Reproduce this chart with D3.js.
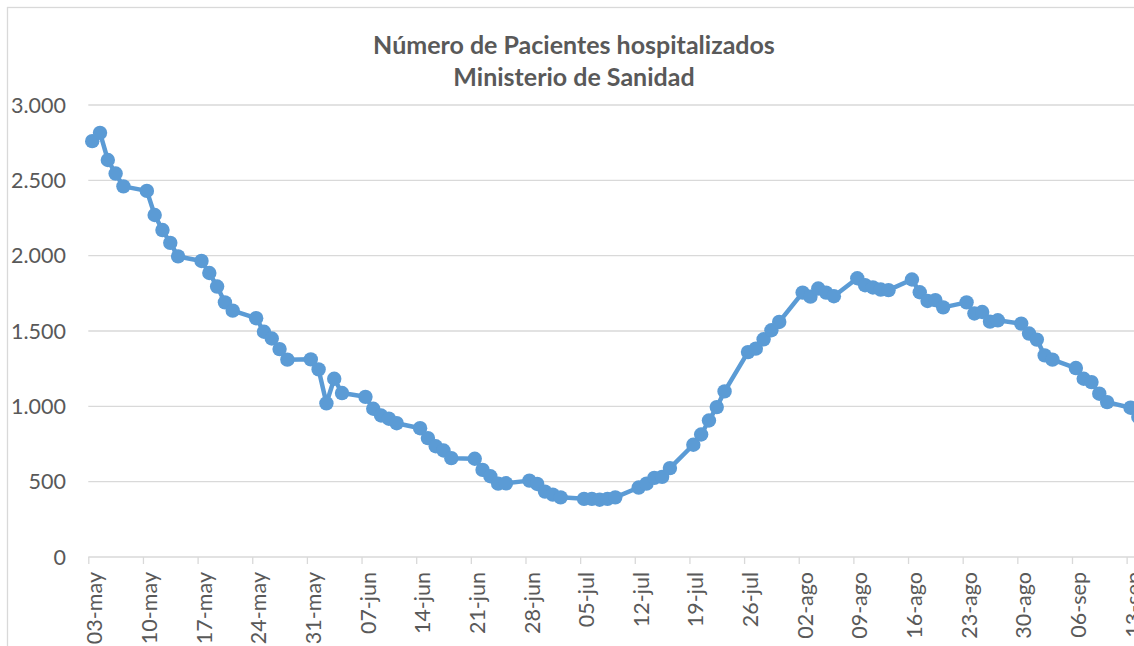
<!DOCTYPE html>
<html>
<head>
<meta charset="utf-8">
<script src="https://cdn.jsdelivr.net/npm/d3@7"></script>
<style>
  body { margin: 0; background: #fff; }
  svg { display: block; }
  text { font-family: Lato, "Open Sans", sans-serif; fill: #595959; }
</style>
</head>
<body>
<svg id="chart" width="1134" height="646"></svg>
<script>
const titleLines = ["Número de Pacientes hospitalizados", "Ministerio de Sanidad"];

// fechas con dato (sin fines de semana)
const fechas = [
  "2020-05-03", "2020-05-04", "2020-05-05", "2020-05-06", "2020-05-07",
  "2020-05-10", "2020-05-11", "2020-05-12", "2020-05-13", "2020-05-14",
  "2020-05-17", "2020-05-18", "2020-05-19", "2020-05-20", "2020-05-21",
  "2020-05-24", "2020-05-25", "2020-05-26", "2020-05-27", "2020-05-28",
  "2020-05-31", "2020-06-01", "2020-06-02", "2020-06-03", "2020-06-04",
  "2020-06-07", "2020-06-08", "2020-06-09", "2020-06-10", "2020-06-11",
  "2020-06-14", "2020-06-15", "2020-06-16", "2020-06-17", "2020-06-18",
  "2020-06-21", "2020-06-22", "2020-06-23", "2020-06-24", "2020-06-25",
  "2020-06-28", "2020-06-29", "2020-06-30", "2020-07-01", "2020-07-02",
  "2020-07-05", "2020-07-06", "2020-07-07", "2020-07-08", "2020-07-09",
  "2020-07-12", "2020-07-13", "2020-07-14", "2020-07-15", "2020-07-16",
  "2020-07-19", "2020-07-20", "2020-07-21", "2020-07-22", "2020-07-23",
  "2020-07-26", "2020-07-27", "2020-07-28", "2020-07-29", "2020-07-30",
  "2020-08-02", "2020-08-03", "2020-08-04", "2020-08-05", "2020-08-06",
  "2020-08-09", "2020-08-10", "2020-08-11", "2020-08-12", "2020-08-13",
  "2020-08-16", "2020-08-17", "2020-08-18", "2020-08-19", "2020-08-20",
  "2020-08-23", "2020-08-24", "2020-08-25", "2020-08-26", "2020-08-27",
  "2020-08-30", "2020-08-31", "2020-09-01", "2020-09-02", "2020-09-03",
  "2020-09-06", "2020-09-07", "2020-09-08", "2020-09-09", "2020-09-10",
  "2020-09-13", "2020-09-14"
];

const pacientes = [
  2760, 2815, 2635, 2545, 2460,
  2430, 2270, 2170, 2085, 1995,
  1965, 1885, 1795, 1690, 1635,
  1585, 1495, 1450, 1380, 1310,
  1312, 1245, 1020, 1183, 1088,
  1063, 984, 939, 918, 888,
  855, 789, 735, 707, 656,
  652, 578, 536, 487, 489,
  507, 485, 434, 414, 396,
  386, 386, 380, 386, 396,
  461, 487, 525, 532, 590,
  745, 813, 906, 995, 1099,
  1360, 1383, 1445, 1505, 1560,
  1755, 1728, 1782, 1755, 1731,
  1850, 1804, 1789, 1775, 1771,
  1842, 1757, 1699, 1705, 1657,
  1690, 1616, 1626, 1562, 1571,
  1549, 1483, 1443, 1338, 1310,
  1254, 1183, 1161, 1084, 1028,
  991, 930
];

const xTickDates = [
  "2020-05-03", "2020-05-10", "2020-05-17", "2020-05-24", "2020-05-31",
  "2020-06-07", "2020-06-14", "2020-06-21", "2020-06-28", "2020-07-05",
  "2020-07-12", "2020-07-19", "2020-07-26", "2020-08-02", "2020-08-09",
  "2020-08-16", "2020-08-23", "2020-08-30", "2020-09-06", "2020-09-13"
];
const yTicks = [0, 500, 1000, 1500, 2000, 2500, 3000];

const parse = d3.utcParse("%Y-%m-%d");
const esLocale = d3.timeFormatLocale({
  dateTime: "%x, %X", date: "%d/%m/%Y", time: "%H:%M:%S", periods: ["AM", "PM"],
  days: ["domingo", "lunes", "martes", "miércoles", "jueves", "viernes", "sábado"],
  shortDays: ["dom", "lun", "mar", "mié", "jue", "vie", "sáb"],
  months: ["enero", "febrero", "marzo", "abril", "mayo", "junio", "julio", "agosto", "septiembre", "octubre", "noviembre", "diciembre"],
  shortMonths: ["ene", "feb", "mar", "abr", "may", "jun", "jul", "ago", "sep", "oct", "nov", "dic"]
});
const fmtDate = esLocale.utcFormat("%d-%b");
const fmtNum = d3.formatLocale({ decimal: ",", thousands: ".", grouping: [3], currency: ["", " €"] }).format(",d");

const data = fechas.map((f, i) => ({ date: parse(f), value: pacientes[i] }));

const W = 1134, H = 646;
const plot = { left: 88.3, top: 105, bottom: 557, dayW: 7.807 };

const svg = d3.select("#chart");

const x = d3.scaleUtc()
  .domain([parse("2020-05-03"), parse("2020-09-17")])
  .range([plot.left, plot.left + 137 * plot.dayW]);
const y = d3.scaleLinear().domain([0, 3000]).range([plot.bottom, plot.top]);

const half = plot.dayW / 2;

// borde del gráfico
svg.append("rect")
  .attr("x", 7.5).attr("y", 7.5)
  .attr("width", W + 20).attr("height", H + 20)
  .attr("fill", "none").attr("stroke", "#d9d9d9").attr("stroke-width", 1.3);

// rejilla
svg.append("g")
  .selectAll("line")
  .data(yTicks.filter(d => d > 0))
  .join("line")
  .attr("x1", plot.left).attr("x2", W + 10)
  .attr("y1", d => y(d)).attr("y2", d => y(d))
  .attr("stroke", "#d9d9d9").attr("stroke-width", 1.3);

// eje Y (etiquetas)
svg.append("g")
  .selectAll("text")
  .data(yTicks)
  .join("text")
  .attr("x", 66).attr("y", d => y(d))
  .attr("dy", "0.35em")
  .attr("text-anchor", "end")
  .style("font-size", "21.5px")
  .text(d => fmtNum(d));

// eje X
const xAxis = d3.axisBottom(x)
  .tickValues(xTickDates.map(parse))
  .tickSize(7)
  .tickFormat(fmtDate);

const gx = svg.append("g")
  .attr("transform", `translate(0,${plot.bottom})`)
  .call(xAxis);
gx.select(".domain").attr("stroke", "#d9d9d9").attr("stroke-width", 1.3)
  .attr("d", `M${plot.left},0H${W + 10}`);
gx.selectAll(".tick line").attr("stroke", "#d9d9d9").attr("stroke-width", 1.3);
gx.selectAll(".tick text")
  .attr("fill", "#595959")
  .style("font-size", "21.5px")
  .attr("text-anchor", "end")
  .attr("transform", "translate(6,15) rotate(-90)")
  .attr("x", 0).attr("y", 0).attr("dy", "0.35em");

// línea
const line = d3.line()
  .x(d => x(d.date) + half)
  .y(d => y(d.value));

svg.append("path")
  .datum(data)
  .attr("fill", "none")
  .attr("stroke", "#5b9bd5")
  .attr("stroke-width", 4.5)
  .attr("stroke-linejoin", "round")
  .attr("d", line);

svg.append("g")
  .selectAll("circle")
  .data(data)
  .join("circle")
  .attr("cx", d => x(d.date) + half)
  .attr("cy", d => y(d.value))
  .attr("r", 7.2)
  .attr("fill", "#5b9bd5");

// título
svg.append("g")
  .selectAll("text")
  .data(titleLines)
  .join("text")
  .attr("x", 574)
  .attr("y", (d, i) => 45 + i * 32)
  .attr("dy", "0.35em")
  .attr("text-anchor", "middle")
  .style("font-size", "25px")
  .style("font-weight", "bold")
  .text(d => d);
</script>
</body>
</html>
